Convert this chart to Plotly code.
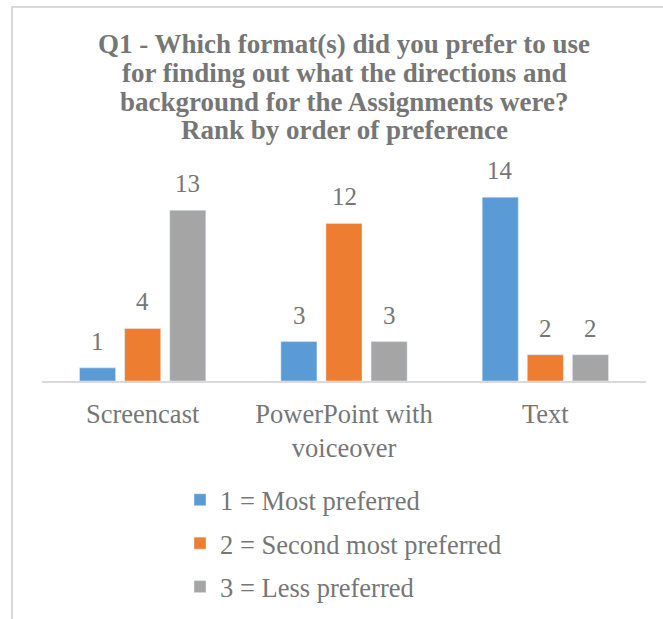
import plotly.graph_objects as go

categories = ["Screencast", "PowerPoint with<br>voiceover", "Text"]
series_names = ["1 = Most preferred", "2 = Second most preferred", "3 = Less preferred"]
most_preferred = [1, 3, 14]
second_preferred = [4, 12, 2]
less_preferred = [13, 3, 2]
title_lines = [
    "Q1 - Which format(s) did you prefer to use",
    "for finding out what the directions and",
    "background for the Assignments were?",
    "Rank by order of preference",
]

series_values = [most_preferred, second_preferred, less_preferred]
colors = ["#5B9BD5", "#ED7D31", "#A5A5A5"]
text_color = "#767676"
FONT = "Liberation Serif, Times New Roman, serif"

W, H = 663, 619
M_L, M_R, M_T, M_B = 42, 17, 184, 238
plot_w = W - M_L - M_R
plot_h = H - M_T - M_B


def paper_y(py):
    return (H - M_B - py) / plot_h


def paper_x(px):
    return (px - M_L) / plot_w


fig = go.Figure()
for i, (name, vals, col) in enumerate(zip(series_names, series_values, colors)):
    fig.add_trace(go.Bar(
        name=name, x=categories, y=vals, marker_color=col,
        legendgroup=f"g{i}",
    ))

# data labels
for i, vals in enumerate(series_values):
    for cat, v in zip(categories, vals):
        fig.add_annotation(
            x=cat, y=v, xref="x", yref="y", text=str(v), showarrow=False,
            xshift=(i - 1) * 45, yshift=11, yanchor="bottom",
            font=dict(family=FONT, size=25, color=text_color),
        )

# title lines
title_baselines = [55, 84, 113, 141]
for line, bl in zip(title_lines, title_baselines):
    fig.add_annotation(
        x=0.5, y=paper_y(bl + 6), xref="paper", yref="paper",
        text=f"<b>{line}</b>", showarrow=False, yanchor="bottom", xanchor="center",
        font=dict(family=FONT, size=27, color=text_color),
    )

# chart border (cropped frame)
fig.add_shape(type="rect", xref="paper", yref="paper",
              x0=paper_x(12), x1=1.2,
              y0=-2, y1=paper_y(7),
              line=dict(color="#D9D9D9", width=2), fillcolor="rgba(0,0,0,0)", layer="below")

fig.update_layout(
    width=W, height=H,
    margin=dict(l=M_L, r=M_R, t=M_T, b=M_B, autoexpand=False),
    paper_bgcolor="white", plot_bgcolor="white",
    barmode="group", bargap=0.328, bargroupgap=0.2,
    font=dict(family=FONT, color=text_color),
    showlegend=True,
    legend=dict(
        x=paper_x(180), y=paper_y(476), xanchor="left", yanchor="top",
        font=dict(family=FONT, size=26.5, color=text_color),
        tracegroupgap=6, bgcolor="rgba(0,0,0,0)",
    ),
    xaxis=dict(
        showline=True, linecolor="#D9D9D9", linewidth=1.5,
        ticks="", showgrid=False,
        tickfont=dict(family=FONT, size=26.5, color=text_color),
        ticklabelstandoff=8,
    ),
    yaxis=dict(range=[0, 15], visible=False, showgrid=False, zeroline=False),
)

fig.write_html("out.html", config={"displayModeBar": False},
               post_script="document.body.style.margin='0px';")
